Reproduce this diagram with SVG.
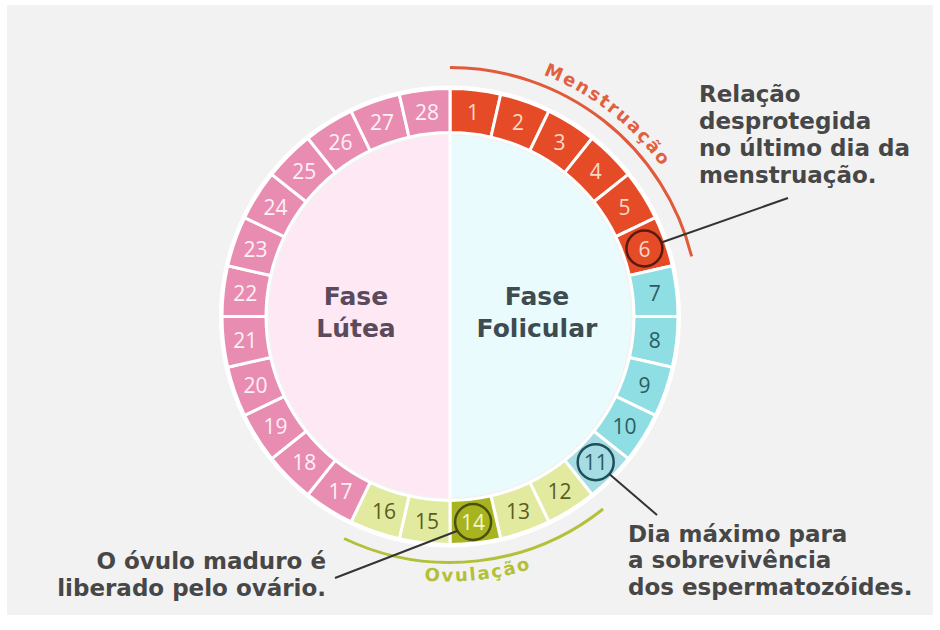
<svg xmlns="http://www.w3.org/2000/svg" xmlns:xlink="http://www.w3.org/1999/xlink" width="940" height="630" viewBox="0 0 940 630">
<style>
.seg{stroke:#ffffff;stroke-width:3;stroke-linejoin:round}
.pk{fill:#e98cb2}
.rd{fill:#e64b27}
.cy{fill:#8edee3}
.yg{fill:#e2eaa0}
.num{font-family:"Open Sans","DejaVu Sans",sans-serif;font-size:21px;text-anchor:middle;dominant-baseline:central}
.npk{fill:#fdf1f6}
.nrd{fill:#fcd8c8}
.ncy{fill:#2d5b62}
.nyg{fill:#5a5d22}
.lbl{font-family:"DejaVu Sans","Liberation Sans",sans-serif;font-weight:bold;font-size:23px;fill:#474747}
.phase{font-family:"DejaVu Sans","Liberation Sans",sans-serif;font-weight:bold;font-size:25px;text-anchor:middle}
.arct{font-family:"DejaVu Sans","Liberation Sans",sans-serif;font-weight:bold;font-size:18px;letter-spacing:2px;text-anchor:middle}
.lead{stroke:#333333;stroke-width:2;fill:none}
.ring{fill:none;stroke-width:2.5}
</style>
<defs>
<path id="seg" d="M0,-228 A228,228 0 0 1 50.735,-222.284 L40.944,-179.387 A184,184 0 0 0 0,-184 Z"/>
<path id="mpath" d="M320.5,92.2 A259,259 0 0 1 693.4,405.1"/>
<path id="opath" d="M220.5,449 A265,265 0 0 0 679.5,449"/>
</defs>
<rect x="0" y="0" width="940" height="630" fill="#ffffff"/>
<rect x="7" y="5" width="926" height="610" fill="#f2f2f2"/>

<g id="inner">
<path d="M450,135.5 A181,181 0 0 0 450,497.5 Z" fill="#fde8f3"/>
<path d="M450,135.5 A181,181 0 0 1 450,497.5 Z" fill="#e9fbfc"/>
<line x1="450" y1="134" x2="450" y2="499" stroke="#ffffff" stroke-width="3"/>
</g>
<circle cx="450" cy="316.5" r="230" fill="none" stroke="#ffffff" stroke-width="2"/>

<g id="segments" transform="translate(450,316.5)">
<g id="day1"><use xlink:href="#seg" class="seg rd" transform="rotate(0)"/></g>
<g id="day2"><use xlink:href="#seg" class="seg rd" transform="rotate(12.857)"/></g>
<g id="day3"><use xlink:href="#seg" class="seg rd" transform="rotate(25.714)"/></g>
<g id="day4"><use xlink:href="#seg" class="seg rd" transform="rotate(38.571)"/></g>
<g id="day5"><use xlink:href="#seg" class="seg rd" transform="rotate(51.429)"/></g>
<g id="day6"><use xlink:href="#seg" class="seg rd" transform="rotate(64.286)"/></g>
<g id="day7"><use xlink:href="#seg" class="seg cy" transform="rotate(77.143)"/></g>
<g id="day8"><use xlink:href="#seg" class="seg cy" transform="rotate(90)"/></g>
<g id="day9"><use xlink:href="#seg" class="seg cy" transform="rotate(102.857)"/></g>
<g id="day10"><use xlink:href="#seg" class="seg cy" transform="rotate(115.714)"/></g>
<g id="day11"><use xlink:href="#seg" class="seg" fill="#a6dde4" transform="rotate(128.571)"/></g>
<g id="day12"><use xlink:href="#seg" class="seg yg" transform="rotate(141.429)"/></g>
<g id="day13"><use xlink:href="#seg" class="seg yg" transform="rotate(154.286)"/></g>
<g id="day14"><use xlink:href="#seg" class="seg" fill="#a8b41f" transform="rotate(167.143)"/></g>
<g id="day15"><use xlink:href="#seg" class="seg yg" transform="rotate(180)"/></g>
<g id="day16"><use xlink:href="#seg" class="seg yg" transform="rotate(192.857)"/></g>
<g id="day17"><use xlink:href="#seg" class="seg pk" transform="rotate(205.714)"/></g>
<g id="day18"><use xlink:href="#seg" class="seg pk" transform="rotate(218.571)"/></g>
<g id="day19"><use xlink:href="#seg" class="seg pk" transform="rotate(231.429)"/></g>
<g id="day20"><use xlink:href="#seg" class="seg pk" transform="rotate(244.286)"/></g>
<g id="day21"><use xlink:href="#seg" class="seg pk" transform="rotate(257.143)"/></g>
<g id="day22"><use xlink:href="#seg" class="seg pk" transform="rotate(270)"/></g>
<g id="day23"><use xlink:href="#seg" class="seg pk" transform="rotate(282.857)"/></g>
<g id="day24"><use xlink:href="#seg" class="seg pk" transform="rotate(295.714)"/></g>
<g id="day25"><use xlink:href="#seg" class="seg pk" transform="rotate(308.571)"/></g>
<g id="day26"><use xlink:href="#seg" class="seg pk" transform="rotate(321.429)"/></g>
<g id="day27"><use xlink:href="#seg" class="seg pk" transform="rotate(334.286)"/></g>
<g id="day28"><use xlink:href="#seg" class="seg pk" transform="rotate(347.143)"/></g>
</g>

<g id="numbers">
<text class="num nrd" x="473.1" y="111.8">1</text>
<text class="num nrd" x="518.0" y="122.1">2</text>
<text class="num nrd" x="559.6" y="142.1">3</text>
<text class="num nrd" x="595.7" y="170.8">4</text>
<text class="num nrd" x="624.4" y="206.9">5</text>
<text class="num nrd" x="644.4" y="248.5">6</text>
<text class="num ncy" x="654.7" y="293.4">7</text>
<text class="num ncy" x="654.7" y="339.6">8</text>
<text class="num ncy" x="644.4" y="384.5">9</text>
<text class="num ncy" x="624.4" y="426.1">10</text>
<text class="num ncy" x="595.7" y="462.2">11</text>
<text class="num nyg" x="559.6" y="490.9">12</text>
<text class="num nyg" x="518.0" y="510.9">13</text>
<text class="num" fill="#f2f5c8" x="473.1" y="522">14</text>
<text class="num nyg" x="426.9" y="521.2">15</text>
<text class="num nyg" x="384.0" y="510.9">16</text>
<text class="num npk" x="340.4" y="490.9">17</text>
<text class="num npk" x="304.3" y="462.2">18</text>
<text class="num npk" x="275.6" y="426.1">19</text>
<text class="num npk" x="255.6" y="384.5">20</text>
<text class="num npk" x="245.3" y="339.6">21</text>
<text class="num npk" x="245.3" y="293.4">22</text>
<text class="num npk" x="255.6" y="248.5">23</text>
<text class="num npk" x="275.6" y="206.9">24</text>
<text class="num npk" x="304.3" y="170.8">25</text>
<text class="num npk" x="340.4" y="142.1">26</text>
<text class="num npk" x="382.0" y="122.1">27</text>
<text class="num npk" x="426.9" y="111.8">28</text>
</g>

<g id="highlights">
<circle class="ring" cx="644.4" cy="248.5" r="18" stroke="#5a1a0e"/>
<circle class="ring" cx="595.7" cy="462.2" r="18" stroke="#1f4f57"/>
<circle class="ring" cx="473.1" cy="522" r="18" stroke="#4b5012"/>
</g>

<g id="phases">
<text class="phase" fill="#5b4a5c" x="356" y="305">Fase</text>
<text class="phase" fill="#5b4a5c" x="356" y="337">Lútea</text>
<text class="phase" fill="#3d4c51" x="537" y="305">Fase</text>
<text class="phase" fill="#3d4c51" x="537" y="337">Folicular</text>
</g>

<g id="menstruacao">
<path d="M450,67.5 A249,249 0 0 1 691.6,256.3" fill="none" stroke="#e15a3a" stroke-width="3"/>
<text class="arct" fill="#e0603f"><textPath xlink:href="#mpath" startOffset="48.6%">Menstruação</textPath></text>
</g>

<g id="ovulacao">
<path d="M603.1,509 A246,246 0 0 1 344.1,538.5" fill="none" stroke="#b3c13a" stroke-width="3"/>
<text class="arct" fill="#b3c034"><textPath xlink:href="#opath" startOffset="55.2%">Ovulação</textPath></text>
</g>

<g id="connectors">
<line class="lead" x1="661.4" y1="242.5" x2="788" y2="198"/>
<line class="lead" x1="609.3" y1="474" x2="657" y2="515"/>
<line class="lead" x1="457" y1="531" x2="335" y2="578"/>
</g>

<g id="label-relacao">
<text class="lbl" x="699" y="102">Relação</text>
<text class="lbl" x="699" y="129">desprotegida</text>
<text class="lbl" x="699" y="156">no último dia da</text>
<text class="lbl" x="699" y="183">menstruação.</text>
</g>
<g id="label-dia">
<text class="lbl" x="628" y="542">Dia máximo para</text>
<text class="lbl" x="628" y="568">a sobrevivência</text>
<text class="lbl" x="628" y="595">dos espermatozóides.</text>
</g>
<g id="label-ovulo">
<text class="lbl" text-anchor="end" x="326" y="569">O óvulo maduro é</text>
<text class="lbl" text-anchor="end" x="326" y="596">liberado pelo ovário.</text>
</g>
</svg>
